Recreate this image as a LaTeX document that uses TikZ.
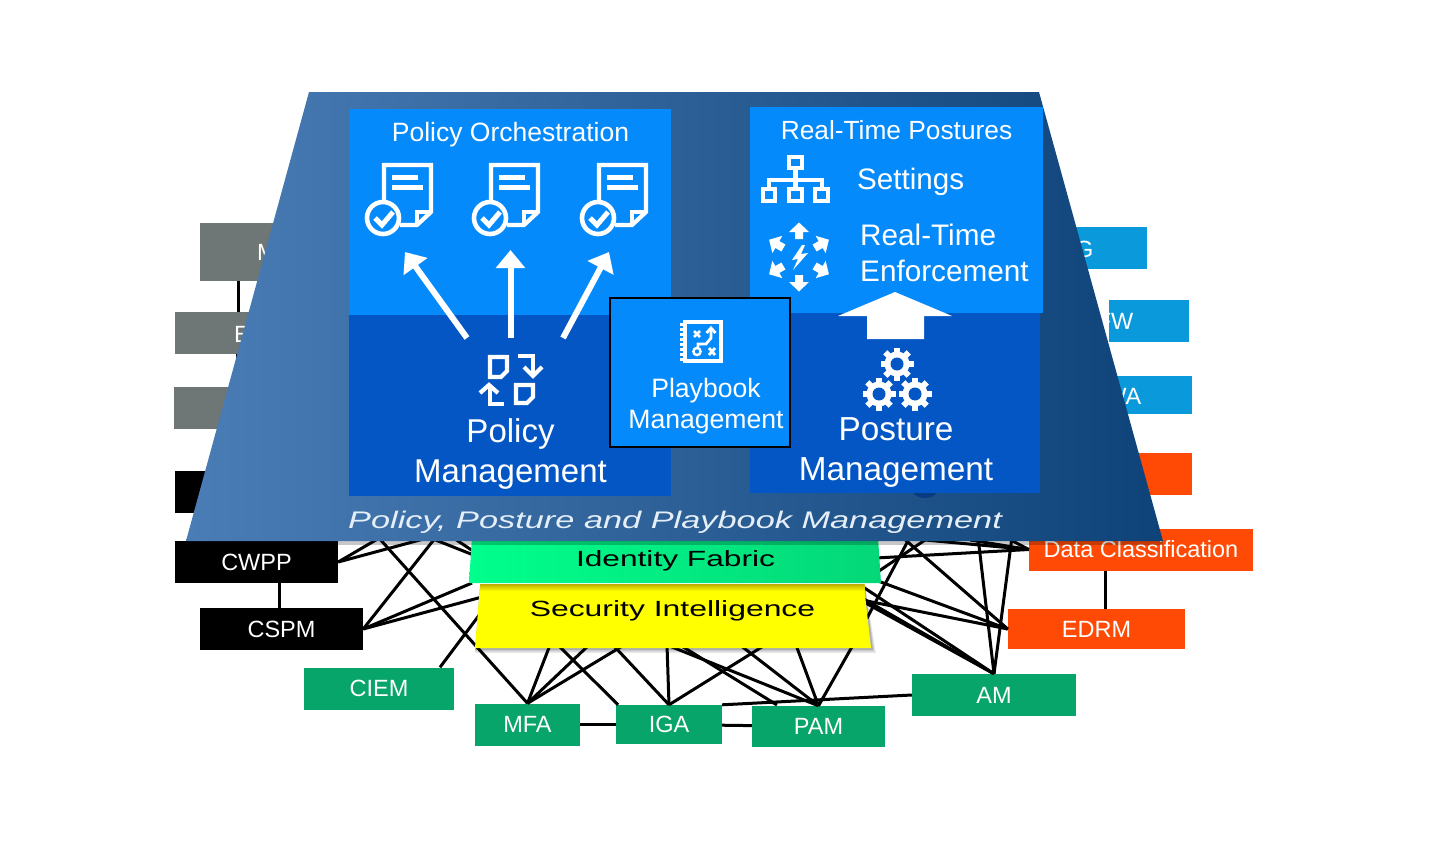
\documentclass[tikz,border=0pt]{standalone}
\usepackage{fontspec}
\setmainfont{Liberation Sans}
\usetikzlibrary{arrows.meta,calc}
\definecolor{bright}{HTML}{058AFB}
\definecolor{deep}{HTML}{0456C4}
\definecolor{grn}{HTML}{07A569}
\definecolor{org}{HTML}{FE4A04}
\definecolor{gry}{HTML}{6E7676}
\definecolor{cyn}{HTML}{0A9ADC}
\definecolor{trapL}{HTML}{4A7DB5}
\definecolor{trapM}{HTML}{2F5F94}
\definecolor{trapR}{HTML}{0E4379}
\definecolor{titlec}{HTML}{E6EFF8}
\definecolor{yel}{RGB}{255,255,0}
\definecolor{yeldark}{RGB}{190,170,0}
\definecolor{blob}{HTML}{0A3A80}
\tikzset{
 tagbox/.style={minimum width=#1,inner sep=0pt,text=white,font=\fontsize{23.5}{26}\selectfont,text height=16.8,text depth=0},
 link/.style={line width=3pt,black},
 icon/.style={line width=4.2pt,white,line join=miter},
 wht/.style={text=white,align=center,inner sep=0pt},
 bigarrow/.style={line width=6pt,white,-{Triangle[width=28.5pt,length=18pt]}},
 cut/.style={inner sep=0pt,text=white,font=\fontsize{23.5}{26}\selectfont,text height=16.8,text depth=0},
}
\newcommand{\docicon}[1]{%
 \begin{scope}[shift={(#1)}]
  \draw[icon] (0,35) -- (0,0) -- (47,0) -- (47,47) -- (33,60) -- (16,60);
  \draw[icon] (47,47) -- (33,47) -- (33,60);
  \draw[line width=5pt,white] (8,12) -- (34,12);
  \draw[line width=5pt,white] (8,22) -- (39,22);
  \draw[line width=4.6pt,white,fill=bright] (-1,53) circle (16);
  \draw[line width=5pt,white] (-9,53) -- (-2,60) -- (9,47);
 \end{scope}}
\newcommand{\gearicon}[1]{%
 \begin{scope}[shift={(#1)}]
  \foreach \a in {0,45,...,315}{\draw[line width=6pt,white] (\a:9) -- (\a:16.5);}
  \fill[white] (0,0) circle (12.5);
  \fill[deep] (0,0) circle (6.5);
 \end{scope}}
\newcommand{\burst}[1]{%
 \begin{scope}[shift={(799,257)},rotate=#1]
  \fill[white] (-4,-18) -- (-4,-25) -- (-10,-25) -- (0,-34.5) -- (10,-25) -- (4,-25) -- (4,-18) -- cycle;
 \end{scope}}
\begin{document}
\begin{tikzpicture}[x=1pt,y=-1pt]
\useasboundingbox (0,0) rectangle (1430,843);
% outer nodes
\node[tagbox=78,minimum height=58,fill=gry] (m) at (239,252) {};
\node[tagbox=78,minimum height=42,fill=gry] (e) at (214,333) {};
\node[tagbox=78,minimum height=42,fill=gry] (g3) at (213,408) {};
\node[tagbox=60,minimum height=42,fill=black] (k) at (205,492) {};
\node[tagbox=163,minimum height=42,fill=black] (cwpp) at (256.5,562) {CWPP};
\node[tagbox=163,minimum height=42,fill=black] (cspm) at (281.5,629) {CSPM};
\node[tagbox=150,minimum height=42,fill=grn] (ciem) at (379,688.5) {CIEM};
\node[tagbox=105,minimum height=42,fill=grn] (mfa) at (527.5,724.5) {MFA};
\node[tagbox=106,minimum height=39,fill=grn] (iga) at (669,724.5) {IGA};
\node[tagbox=133,minimum height=41,fill=grn] (pam) at (818.5,726.5) {PAM};
\node[tagbox=164,minimum height=42,fill=grn] (am) at (994,695) {AM};
\node[tagbox=177,minimum height=40,fill=org] (edrm) at (1096.5,629) {EDRM};
\node[tagbox=224,minimum height=42,fill=org] (dc) at (1141,549.5) {Data Classification};
\node[tagbox=80,minimum height=42,fill=org] (o1) at (1152,474) {};
\node[tagbox=80,minimum height=38,fill=cyn] (c3) at (1152,395) {};
\node[tagbox=80,minimum height=42,fill=cyn] (c2) at (1149,321) {};
\node[tagbox=80,minimum height=42,fill=cyn] (c1) at (1107,248) {};
\node[cut,anchor=west] (mt) at (257,252) {M};
\node[cut,anchor=west] (et) at (234,334) {E};
\node[cut,anchor=east] (c1t) at (1093.5,249) {G};
\node[cut,anchor=east] (c2t) at (1133.5,321) {FW};
\node[cut,anchor=east] (c3t) at (1141.5,396) {WA};
% free ends of the connectors, under the layers
\coordinate (a1) at (381,537); \coordinate (a2) at (431,537);
\coordinate (a3) at (378,537); \coordinate (a4) at (436,537);
\coordinate (a5) at (472,583); \coordinate (a6) at (482,597);
\coordinate (a7) at (480,614); \coordinate (a8) at (428,537);
\coordinate (a9) at (476,556); \coordinate (a10) at (452,537);
\coordinate (a11) at (476,553);
\coordinate (b1) at (550,645); \coordinate (b2) at (589,645);
\coordinate (b3) at (624,645); \coordinate (b4) at (558,645);
\coordinate (b5) at (613,645); \coordinate (b6) at (667,645);
\coordinate (b7) at (765,645); \coordinate (b8) at (680,645);
\coordinate (b9) at (740,645); \coordinate (b10) at (796,645);
\coordinate (b11) at (853,645);
\coordinate (c1e) at (860,585); \coordinate (c2e) at (862,598); \coordinate (c3e) at (862,601);
\coordinate (c4e) at (862,600); \coordinate (c5e) at (878,581); \coordinate (c6e) at (902,537);
\coordinate (c7e) at (866,620); \coordinate (c8e) at (910,537); \coordinate (c9e) at (876,573);
\coordinate (c10e) at (928,538); \coordinate (c11e) at (876,558);
\coordinate (c12e) at (970,540); \coordinate (c13e) at (1005,537);
\coordinate (c14e) at (925,540); \coordinate (c15e) at (978,537); \coordinate (c16e) at (1012,537);
% connectors
\draw[link] (m.south -| 238,0) -- (e.north -| 238,0);
\draw[link] (e.south -| 237,0) -- (g3.north -| 237,0);
\draw[link] (cwpp.south -| 279,0) -- (cspm.north -| 279,0);
\draw[link] (mfa) -- (iga);
\draw[link] (iga) -- (pam);
\draw[link] (dc.south -| 1105,0) -- (edrm.north -| 1105,0);
\draw[link] (cwpp.east) -- (a1);
\draw[link] (cwpp.east) -- (a2);
\draw[link] (a3) -- (mfa.north);
\draw[link] (a4) -- (cspm.east);
\draw[link] (cspm.east) -- (a5);
\draw[link] (cspm.east) -- (a6);
\draw[link] (ciem.north -| 440,0) -- (a7);
\draw[link] (a8) -- (a9);
\draw[link] (a10) -- (a11);
\draw[link] (mfa.north) -- (b1);
\draw[link] (mfa.north) -- (b2);
\draw[link] (mfa.north) -- (b3);
\draw[link] (b4) -- (iga.north -| 618,0);
\draw[link] (b5) -- (iga.north);
\draw[link] (b6) -- (iga.north);
\draw[link] (iga.north) -- (b7);
\draw[link] (b6) -- (pam.north);
\draw[link] (b8) -- (777,705);
\draw[link] (b9) -- (pam.north);
\draw[link] (b10) -- (pam.north);
\draw[link] (b11) -- (pam.north);
\draw[link] (iga.north east) -- (am.west);
\draw[link] (c1e) -- (am.north);
\draw[link] (c2e) -- (am.north);
\draw[link] (c3e) -- (am.north);
\draw[link] (am.north) -- (c15e);
\draw[link] (am.north) -- (c16e);
\draw[link] (c4e) -- (edrm.west);
\draw[link] (c5e) -- (edrm.west);
\draw[link] (c6e) -- (edrm.west);
\draw[link] (c7e) -- (c8e);
\draw[link] (c9e) -- (c10e);
\draw[link] (c11e) -- (dc.west);
\draw[link] (c12e) -- (dc.west);
\draw[link] (c13e) -- (dc.west);
\draw[link] (c14e) -- (dc.west);
% yellow layer
\foreach \d/\o in {5/.08,3.5/.12,2/.16}{
 \fill[black,opacity=\o] (480,586) -- (865,586) -- (871+\d,648+\d) -- (475,648+\d) -- cycle;}
\fill[yel] (480,586) -- (864,586) -- (871,648) -- (475,648) -- cycle;
\shade[top color=yeldark,bottom color=yel] (480,584) rectangle (864.5,591);
\node[inner sep=0pt,anchor=base,font=\fontsize{22}{26}\selectfont] (si) at (672.5,616) {\scalebox{1.45}[1]{Security Intelligence}};
% green layer
\shade[left color={rgb,255:red,0;green,255;blue,140},right color={rgb,255:red,4;green,215;blue,120}]
  (472,537) -- (878,537) -- (881,583) -- (469,583) -- cycle;
\node[inner sep=0pt,anchor=base,font=\fontsize{22}{26}\selectfont] (idf) at (675.5,566) {\scalebox{1.44}[1]{Identity Fabric}};
% trapezoid
\fill[black,opacity=.22] (186,541) rectangle (1163,545);
\shade[left color=trapL,middle color=trapM,right color=trapR]
  (309,92) -- (1039,92) -- (1163,541) -- (186,541) -- cycle;
\fill[blob] (925,489) ellipse (13 and 9);
% panels
\fill[bright] (349,109) rectangle (671,315);
\fill[deep] (349,315) rectangle (671,496);
\fill[bright] (750,107) rectangle (1043,313);
\fill[deep] (750,313) rectangle (1040,493);
\node[wht,font=\fontsize{26.5}{30}\selectfont] (po) at (510.5,135) {Policy Orchestration};
\node[wht,font=\fontsize{26.3}{30}\selectfont] (rtp) at (896.5,130) {Real-Time Postures};
\node[wht,font=\fontsize{29.6}{34}\selectfont,anchor=west] (set) at (857,182) {Settings};
\node[wht,font=\fontsize{29.7}{35.5}\selectfont,anchor=base west,align=left] (rte) at (860,281) {Real-Time\\Enforcement};
\node[wht,font=\fontsize{33}{40}\selectfont] (pm) at (510.5,454) {Policy\\Management};
\node[wht,font=\fontsize{33.3}{40}\selectfont] (psm) at (896,452) {Posture\\Management};
\node[anchor=base west,inner sep=0pt,text=titlec,font=\fontsize{24}{26}\itshape\selectfont] (ttl) at (348,528) {\scalebox{1.43}[1]{Policy, Posture and Playbook Management}};
% documents
\docicon{384,165}
\docicon{491,165}
\docicon{599,165}
% arrows
\coordinate (d1) at (405,252); \coordinate (d2) at (510.5,250); \coordinate (d3) at (609,252);
\coordinate (p1) at (467,338); \coordinate (p2) at (510.5,338); \coordinate (p3) at (563,338);
\draw[bigarrow] (p1) -- (d1);
\draw[bigarrow] (p2) -- (d2);
\draw[bigarrow] (p3) -- (d3);
% policy management icon
\draw[icon] (490,357) -- (507,357) -- (507,371) -- (501,377) -- (490,377) -- cycle;
\draw[icon] (516,385) -- (533,385) -- (533,397) -- (527,403) -- (516,403) -- cycle;
\draw[icon] (518,356) -- (533,356) -- (533,374);
\draw[icon] (524,367) -- (533,376) -- (542,367);
\draw[icon] (490,387) -- (490,404) -- (504,404);
\draw[icon] (480,393) -- (489,385) -- (498,393);
% settings icon
\draw[icon] (789,157) rectangle (802,168);
\draw[icon] (763,189) rectangle (775,201);
\draw[icon] (789,189) rectangle (802,201);
\draw[icon] (815,189) rectangle (828,201);
\draw[icon] (795.5,170) -- (795.5,187);
\draw[icon] (769,187) -- (769,180) -- (822,180) -- (822,187);
% enforcement icon
\foreach \r in {0,60,...,300}{\burst{\r}}
\fill[white] (802,245) -- (792,260) -- (798,259) -- (793,270) -- (808,253) -- (801,254) -- (805,245) -- cycle;
% big up arrow
\fill[white] (895,292) -- (952,316) -- (924,316) -- (924,339) -- (867,339) -- (867,316) -- (838,316) -- cycle;
% gears
\gearicon{897,364}
\gearicon{879,394}
\gearicon{915,394}
% playbook
\node[draw=black,fill=bright,line width=2.5pt,minimum width=180,minimum height=149,inner sep=0pt] (pb) at (700,372.5) {};
\node[wht,font=\fontsize{26.6}{31}\selectfont] (pbt) at (706,406) {Playbook\\Management};
\draw[icon] (685,322) rectangle (721,361);
\draw[line width=3pt,white,dash pattern=on 2.5pt off 2.5pt] (681.5,323) -- (681.5,361);
\draw[line width=2.8pt,white] (694,331) -- (700,337) (700,331) -- (694,337);
\draw[line width=2.8pt,white] (709,348) -- (715,355) (715,348) -- (709,355);
\draw[line width=2.4pt,white] (697,351.5) circle (3.6);
\draw[line width=2.8pt,white] (698,347) -- (698,344) -- (706,344) -- (711,338) -- (711,329);
\draw[line width=2.8pt,white] (706.5,333) -- (711,328) -- (715.5,333);
\end{tikzpicture}
\end{document}
